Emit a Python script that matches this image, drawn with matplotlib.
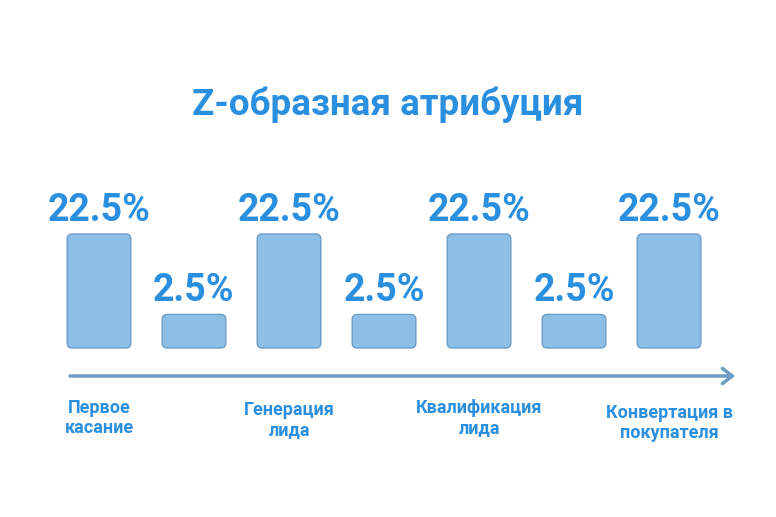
import matplotlib.pyplot as plt
from matplotlib.patches import FancyBboxPatch
from matplotlib.transforms import IdentityTransform

# Data
title = "Z-образная атрибуция"
shares = [22.5, 2.5, 22.5, 2.5, 22.5, 2.5, 22.5]
value_labels = ["22.5%", "2.5%", "22.5%", "2.5%", "22.5%", "2.5%", "22.5%"]
stage_names = ["Первое\nкасание", "Генерация\nлида", "Квалификация\nлида", "Конвертация в\nпокупателя"]
stage_pos = [0, 2, 4, 6]
stage_top = [399, 401, 399, 404]  # pixel offsets of label tops, as in the picture

text_blue = "#2b8fe0"
bar_fill = "#8dbee6"
bar_edge = "#6d9dc8"
arrow_col = "#6f9cc4"

plt.rcParams['font.family'] = ['Roboto', 'DejaVu Sans']

W, H = 776, 517
fig = plt.figure(figsize=(W / 100, H / 100), dpi=100)
ax = fig.add_axes([0, 0, 1, 1])
ax.set_yscale('log')
ax.set_xlim(-1.042, 7.126)
ax.set_ylim(0.00989, 13430)
ax.axis('off')

x = list(range(len(shares)))
bars = ax.bar(x, [v - 1 for v in shares], bottom=1, width=0.67, alpha=0)

# swap plain rectangles for rounded ones (in pixels)
for b in bars:
    (x0, y0), (x1, y1) = ax.transData.transform([(b.get_x(), b.get_y()),
                                                 (b.get_x() + b.get_width(), b.get_y() + b.get_height())])
    r = 5
    p = FancyBboxPatch((x0 + r, y0 + r), x1 - x0 - 2 * r, y1 - y0 - 2 * r,
                       boxstyle=f"round,pad={r}", transform=IdentityTransform(),
                       facecolor=bar_fill, edgecolor=bar_edge, linewidth=1)
    fig.add_artist(p)

for xi, v, lab in zip(x, shares, value_labels):
    ax.annotate(lab, (xi, v), xytext=(0, 13), textcoords='offset pixels',
                ha='center', va='baseline', fontsize=27, fontweight='bold', color=text_blue)

fig.text(0.5, 1 - 115 / H, title, ha='center', va='baseline',
         fontsize=26.5, fontweight='bold', color=text_blue)

# timeline arrow
ax.annotate('', xy=(735 / W, 1 - 376 / H), xytext=(70 / W, 1 - 376 / H),
            xycoords='figure fraction', textcoords='figure fraction',
            arrowprops=dict(arrowstyle='->,head_length=0.7,head_width=0.55',
                            color=arrow_col, lw=2.5, shrinkA=0, shrinkB=0))

narrow = ['Liberation Sans Narrow', 'Roboto', 'DejaVu Sans']
for pos, name, top in zip(stage_pos, stage_names, stage_top):
    fig.text(ax.transData.transform((pos, 1))[0] / W, 1 - top / H, name,
             ha='center', va='top', fontsize=13, fontweight='bold',
             color=text_blue, family=narrow, linespacing=1.15)

fig.savefig('out.png', dpi=100)
